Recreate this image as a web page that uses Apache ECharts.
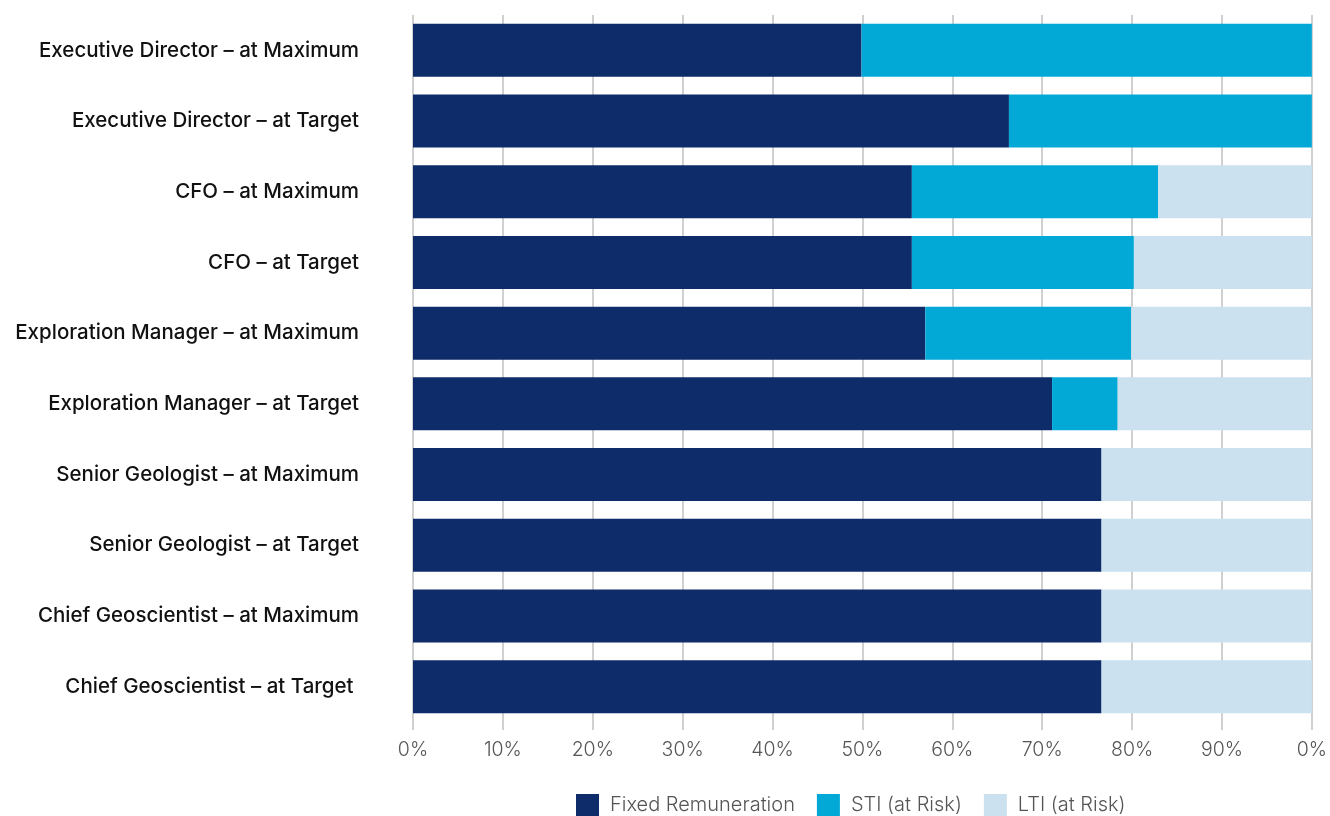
<!DOCTYPE html>
<html>
<head>
<meta charset="utf-8">
<script src="https://cdn.jsdelivr.net/npm/echarts@6/dist/echarts.min.js"></script>
<style>
html,body{margin:0;padding:0;background:#fff;}
#chart{width:1330px;height:816px;}
</style>
</head>
<body>
<div id="chart"></div>
<script>
const categories = [
  "Executive Director – at Maximum",
  "Executive Director – at Target",
  "CFO – at Maximum",
  "CFO – at Target",
  "Exploration Manager – at Maximum",
  "Exploration Manager – at Target",
  "Senior Geologist – at Maximum",
  "Senior Geologist – at Target",
  "Chief Geoscientist – at Maximum",
  "Chief Geoscientist – at Target "
];
const fixedRem = [49.9, 66.3, 55.5, 55.5, 57.0, 71.1, 76.6, 76.6, 76.6, 76.6];
const sti      = [50.1, 33.7, 27.4, 24.7, 22.9, 7.3, 0, 0, 0, 0];
const lti      = [0, 0, 17.1, 19.8, 20.1, 21.6, 23.4, 23.4, 23.4, 23.4];
const tickLabels = ["0%","10%","20%","30%","40%","50%","60%","70%","80%","90%","0%"];
const seriesNames = ["Fixed Remuneration", "STI (at Risk)", "LTI (at Risk)"];
const colors = ["#0e2b6a", "#02a9d7", "#cbe1ef"];

const chart = echarts.init(document.getElementById('chart'), null, {renderer:'canvas'});
const mk = (name, data, color) => ({
  name, type: 'bar', stack: 'total', data,
  barCategoryGap: '25%',
  itemStyle: {color},
  emphasis: {disabled: true}
});
chart.setOption({
  animation: false,
  textStyle: {fontFamily: 'Inter'},
  grid: {left: 413, right: 14, top: 15, bottom: 94, containLabel: false},
  legend: {
    bottom: 0, left: 576, padding: 0,
    itemWidth: 23, itemHeight: 22, itemGap: 22,
    icon: 'rect',
    textStyle: {color: '#555', fontSize: 20, fontFamily: 'Inter', fontWeight: 300, padding: [0,0,0,6]},
    data: seriesNames
  },
  xAxis: {
    type: 'value', min: 0, max: 100, interval: 10,
    axisLine: {show: false},
    axisTick: {show: true, length: 8, lineStyle: {color: '#d0d0d0', width: 2}},
    splitLine: {show: true, lineStyle: {color: '#d0d0d0', width: 2}},
    axisLabel: {
      color: '#555', fontSize: 19.5, margin: 18, fontFamily: 'Inter', fontWeight: 300,
      formatter: (v) => tickLabels[Math.round(v / 10)]
    }
  },
  yAxis: {
    type: 'category', inverse: true, data: categories,
    axisLine: {show: false}, axisTick: {show: false},
    axisLabel: {color: '#111', fontSize: 20.5, margin: 54, fontFamily: 'Inter', fontWeight: 500, padding: [6,0,0,0]}
  },
  series: [
    mk(seriesNames[0], fixedRem, colors[0]),
    mk(seriesNames[1], sti, colors[1]),
    mk(seriesNames[2], lti, colors[2])
  ]
});
</script>
</body>
</html>
